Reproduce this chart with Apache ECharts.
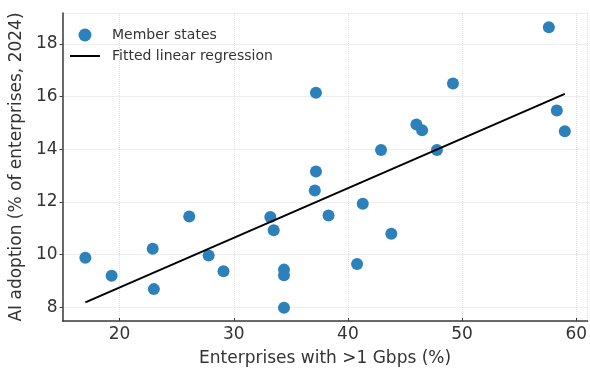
<!DOCTYPE html>
<html>
<head>
<meta charset="utf-8">
<script src="https://cdn.jsdelivr.net/npm/echarts@6/dist/echarts.min.js"></script>
<style>html,body{margin:0;padding:0;background:#fff;}#chart{width:590px;height:372px;}</style>
</head>
<body>
<div id="chart"></div>
<script>
// Enterprises with >1 Gbps (%)
const gbpsShare = [17.0, 19.3, 22.9, 23.0, 26.1, 27.8, 29.1, 33.2, 33.5, 34.4, 34.4, 34.4,
  37.1, 38.3, 41.3, 43.8, 40.8, 37.2, 37.2, 42.9, 46.0, 46.5, 47.8, 49.2, 57.6, 58.3, 59.0];
// AI adoption (% of enterprises, 2024)
const aiAdoption = [9.88, 9.20, 10.22, 8.69, 11.45, 9.97, 9.37, 11.43, 10.92, 9.43, 9.22, 7.98,
  12.43, 11.48, 11.93, 10.79, 9.64, 16.14, 13.15, 13.97, 14.94, 14.72, 13.97, 16.49, 18.63, 15.47, 14.68];
// fitted regression line endpoints
const fitX = [17.0, 59.0];
const fitY = [8.19, 16.10];

const font = 'DejaVu Sans';
const chart = echarts.init(document.getElementById('chart'), null, {renderer: 'canvas'});
chart.setOption({
  animation: false,
  backgroundColor: '#fff',
  textStyle: {fontFamily: font},
  grid: {left: 60, right: -2, top: 13, bottom: 46, containLabel: false},
  legend: {
    left: 70, top: 28, orient: 'vertical', padding: 0,
    itemWidth: 30, itemHeight: 13, itemGap: 7, symbolKeepAspect: true,
    textStyle: {fontFamily: font, fontSize: 14, color: '#333', padding: [0, 0, 0, 7]},
    data: [
      {name: 'Member states', icon: 'circle'},
      {name: 'Fitted linear regression', icon: 'path://M0,0H30V2H0Z'}
    ]
  },
  xAxis: {
    type: 'value', min: 15, max: 61, splitNumber: 5,
    name: 'Enterprises with >1 Gbps (%)', nameLocation: 'middle', nameGap: 29,
    nameTextStyle: {fontFamily: font, fontSize: 17, color: '#333'},
    axisLine: {show: true, lineStyle: {color: '#3a3a3a', width: 1.5}},
    axisTick: {show: true, inside: true, length: 3, lineStyle: {color: '#3a3a3a'}},
    axisLabel: {fontFamily: font, fontSize: 17, color: '#333', margin: 5, showMinLabel: false, showMaxLabel: false},
    splitLine: {show: true, lineStyle: {color: '#dddddd', type: 'dotted', width: 1}}
  },
  yAxis: {
    type: 'value', min: 7.48, max: 19.17, splitNumber: 6,
    name: 'AI adoption (% of enterprises, 2024)', nameLocation: 'middle', nameGap: 31,
    nameTextStyle: {fontFamily: font, fontSize: 17, color: '#333'},
    axisLine: {show: true, lineStyle: {color: '#3a3a3a', width: 1.5}},
    axisTick: {show: true, inside: false, length: 3, lineStyle: {color: '#3a3a3a'}},
    axisLabel: {fontFamily: font, fontSize: 17, color: '#333', margin: 5, showMinLabel: false, showMaxLabel: false},
    splitLine: {show: true, lineStyle: {color: '#dddddd', type: 'dotted', width: 1}}
  },
  series: [
    {
      name: 'Member states', type: 'scatter', symbol: 'circle', symbolSize: 12,
      itemStyle: {color: '#2d81bb', opacity: 1},
      data: gbpsShare.map((x, i) => [x, aiAdoption[i]]), z: 3
    },
    {
      name: 'Fitted linear regression', type: 'line', symbol: 'none', showSymbol: false,
      lineStyle: {color: '#000', width: 2}, itemStyle: {color: '#000'},
      data: fitX.map((x, i) => [x, fitY[i]]), z: 4
    }
  ]
});
</script>
</body>
</html>
